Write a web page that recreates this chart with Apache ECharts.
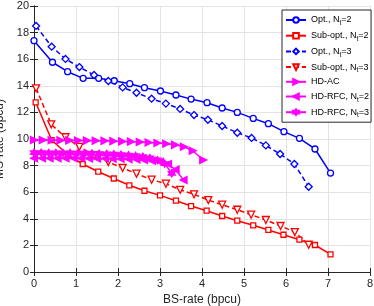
<!DOCTYPE html>
<html><head><meta charset="utf-8">
<script src="https://cdn.jsdelivr.net/npm/echarts@6/dist/echarts.min.js"></script>
<style>html,body{margin:0;padding:0;background:#fff}#c{width:374px;height:306px}</style>
</head><body><div id="c"></div>
<script>
var xTicks = [0,1,2,3,4,5,6,7,8];
var yTicks = [0,2,4,6,8,10,12,14,16,18,20];
var seriesNames = ['Opt., Nt=2','Sub-opt., Nt=2','Opt., Nt=3','Sub-opt., Nt=3','HD-AC','HD-RFC, Nt=2','HD-RFC, Nt=3'];

var optNt2X = [0, 0.44, 0.80, 1.17, 1.54, 1.91, 2.28, 2.63, 3.01, 3.38, 3.74, 4.12, 4.48, 4.84, 5.22, 5.58, 5.95, 6.32, 6.69, 7.06];
var optNt2Y = [17.39, 15.77, 15.06, 14.56, 14.56, 14.38, 14.16, 13.86, 13.61, 13.31, 13.0, 12.73, 12.33, 12.0, 11.55, 11.15, 10.55, 10.05, 9.25, 7.44];
var subNt2X = [0.04, 0.42, 0.81, 1.16, 1.53, 1.90, 2.27, 2.63, 3.0, 3.38, 3.74, 4.11, 4.48, 4.84, 5.22, 5.58, 5.94, 6.32, 6.69, 7.06];
var subNt2Y = [12.76, 9.92, 8.8, 8.12, 7.54, 7.03, 6.52, 6.11, 5.76, 5.36, 4.96, 4.61, 4.21, 3.86, 3.51, 3.16, 2.8, 2.43, 2.03, 1.33];
var optNt3X = [0.05, 0.42, 0.75, 1.08, 1.43, 1.77, 2.11, 2.44, 2.80, 3.14, 3.48, 3.81, 4.14, 4.48, 4.84, 5.18, 5.52, 5.86, 6.20, 6.54];
var optNt3Y = [18.5, 16.94, 16.02, 15.41, 14.81, 14.36, 13.88, 13.48, 13.03, 12.66, 12.26, 11.8, 11.45, 10.98, 10.47, 10.08, 9.52, 8.87, 8.12, 6.41];
var subNt3X = [0.05, 0.41, 0.75, 1.08, 1.43, 1.77, 2.11, 2.44, 2.80, 3.14, 3.48, 3.81, 4.15, 4.48, 4.84, 5.17, 5.52, 5.87, 6.21, 6.54];
var subNt3Y = [13.81, 11.1, 10.13, 9.41, 8.78, 8.26, 7.82, 7.39, 6.94, 6.64, 6.18, 5.84, 5.41, 5.06, 4.68, 4.31, 3.91, 3.46, 3.0, 2.05];
var hdacX = [0, 0.21, 0.42, 0.63, 0.84, 1.05, 1.26, 1.47, 1.68, 1.89, 2.1, 2.31, 2.52, 2.73, 2.94, 3.15, 3.36, 3.57, 3.78, 4.03];
var hdacY = [9.92, 9.92, 9.91, 9.9, 9.9, 9.89, 9.88, 9.87, 9.86, 9.84, 9.82, 9.8, 9.77, 9.74, 9.7, 9.64, 9.56, 9.42, 9.12, 8.42];
var rfc2X = [0, 0.19, 0.37, 0.56, 0.75, 0.94, 1.12, 1.31, 1.50, 1.69, 1.87, 2.06, 2.25, 2.44, 2.62, 2.81, 3.0, 3.19, 3.37, 3.56];
var rfc2Y = [8.55, 8.55, 8.55, 8.55, 8.55, 8.55, 8.55, 8.54, 8.54, 8.53, 8.52, 8.51, 8.49, 8.46, 8.42, 8.37, 8.28, 8.12, 7.7, 6.92];
var rfc3X = [0, 0.17, 0.35, 0.52, 0.69, 0.86, 1.04, 1.21, 1.38, 1.55, 1.73, 1.90, 2.07, 2.25, 2.42, 2.59, 2.76, 2.94, 3.11, 3.28];
var rfc3Y = [8.97, 8.97, 8.96, 8.96, 8.95, 8.95, 8.94, 8.93, 8.92, 8.9, 8.88, 8.86, 8.83, 8.79, 8.74, 8.67, 8.57, 8.42, 8.15, 7.42];

function pairs(xs, ys){ return xs.map(function(x,i){ return [x, ys[i]]; }); }

var BLUE = '#0000ff', RED = '#ff0000', MAG = '#ff00ff';
var hexPath = 'path://M0,-10L2.9,-5L8.66,-5L5.8,0L8.66,5L2.9,5L0,10L-2.9,5L-8.66,5L-5.8,0L-8.66,-5L-2.9,-5Z';

function mk(name, xs, ys, color, symbol, size, rot, dashed, filled){
  return {
    name: name, type: 'line', data: pairs(xs, ys),
    symbol: symbol, symbolSize: size, symbolRotate: rot, showSymbol: true,
    lineStyle: {color: color, width: 1.5, type: dashed ? [5,3] : 'solid'},
    itemStyle: {color: filled ? color : '#ffffff', borderColor: color, borderWidth: 1.3},
    emphasis: {disabled: true}, animation: false, z: 3
  };
}

var font = '"Liberation Sans", Arial, sans-serif';
var chart = echarts.init(document.getElementById('c'), null, {renderer: 'canvas'});
var axisLine = {show: true, lineStyle: {color: '#262626', width: 1}};
chart.setOption({
  animation: false,
  grid: {left: 34, top: 6, right: 4, bottom: 34, containLabel: false, outerBoundsMode: 'none'},
  xAxis: [{
    type: 'value', min: 0, max: 8, interval: 1,
    name: 'BS-rate (bpcu)', nameLocation: 'middle', nameGap: 21,
    nameTextStyle: {fontFamily: font, fontSize: 12, color: '#262626'},
    axisLine: axisLine, axisTick: {show: true, inside: true, length: 4, lineStyle: {color: '#262626'}},
    axisLabel: {fontFamily: font, fontSize: 11, color: '#262626', margin: 6},
    splitLine: {show: true, lineStyle: {color: '#e3e3e3', width: 1}}
  },{
    type: 'value', position: 'top', min: 0, max: 8, interval: 1,
    axisLine: axisLine, axisTick: {show: true, inside: true, length: 4, lineStyle: {color: '#262626'}},
    axisLabel: {show: false}, splitLine: {show: false}
  }],
  yAxis: [{
    type: 'value', min: 0, max: 20, interval: 2,
    name: 'MS-rate (bpcu)', nameLocation: 'middle', nameGap: 26,
    nameTextStyle: {fontFamily: font, fontSize: 12, color: '#262626'},
    axisLine: axisLine, axisTick: {show: true, inside: true, length: 4, lineStyle: {color: '#262626'}},
    axisLabel: {fontFamily: font, fontSize: 11, color: '#262626', margin: 5},
    splitLine: {show: true, lineStyle: {color: '#e3e3e3', width: 1}}
  },{
    type: 'value', position: 'right', min: 0, max: 20, interval: 2,
    axisLine: axisLine, axisTick: {show: true, inside: true, length: 4, lineStyle: {color: '#262626'}},
    axisLabel: {show: false}, splitLine: {show: false}
  }],
  legend: {
    orient: 'vertical', left: 282, top: 10,
    backgroundColor: '#ffffff', borderColor: '#262626', borderWidth: 1,
    padding: [3, 2, 3, 3], itemGap: 1.7, itemWidth: 20, itemHeight: 7,
    data: seriesNames,
    formatter: function(n){
      var m = n.match(/^(.*)Nt(=\d)$/);
      if (m) return '{a|' + m[1] + 'N}{s|t}{a|' + m[2] + '}';
      return '{a|' + n + '}';
    },
    textStyle: {
      fontFamily: font, fontSize: 9, color: '#000',
      rich: {
        a: {fontFamily: font, fontSize: 9, color: '#000', height: 12, lineHeight: 12},
        s: {fontFamily: font, fontSize: 6.5, color: '#000', padding: [7,0,0,0], lineHeight: 8}
      }
    }
  },
  series: [
    mk(seriesNames[0], optNt2X, optNt2Y, BLUE, 'circle', 6, 0, false, false),
    mk(seriesNames[1], subNt2X, subNt2Y, RED, 'rect', 5, 0, false, false),
    mk(seriesNames[2], optNt3X, optNt3Y, BLUE, 'diamond', 7, 0, true, false),
    mk(seriesNames[3], subNt3X, subNt3Y, RED, 'triangle', 7, 180, true, false),
    mk(seriesNames[4], hdacX, hdacY, MAG, 'triangle', 7, -90, false, true),
    mk(seriesNames[5], rfc2X, rfc2Y, MAG, 'triangle', 7, 90, false, true),
    mk(seriesNames[6], rfc3X, rfc3Y, MAG, hexPath, 7, 0, false, true)
  ]
});
</script></body></html>
